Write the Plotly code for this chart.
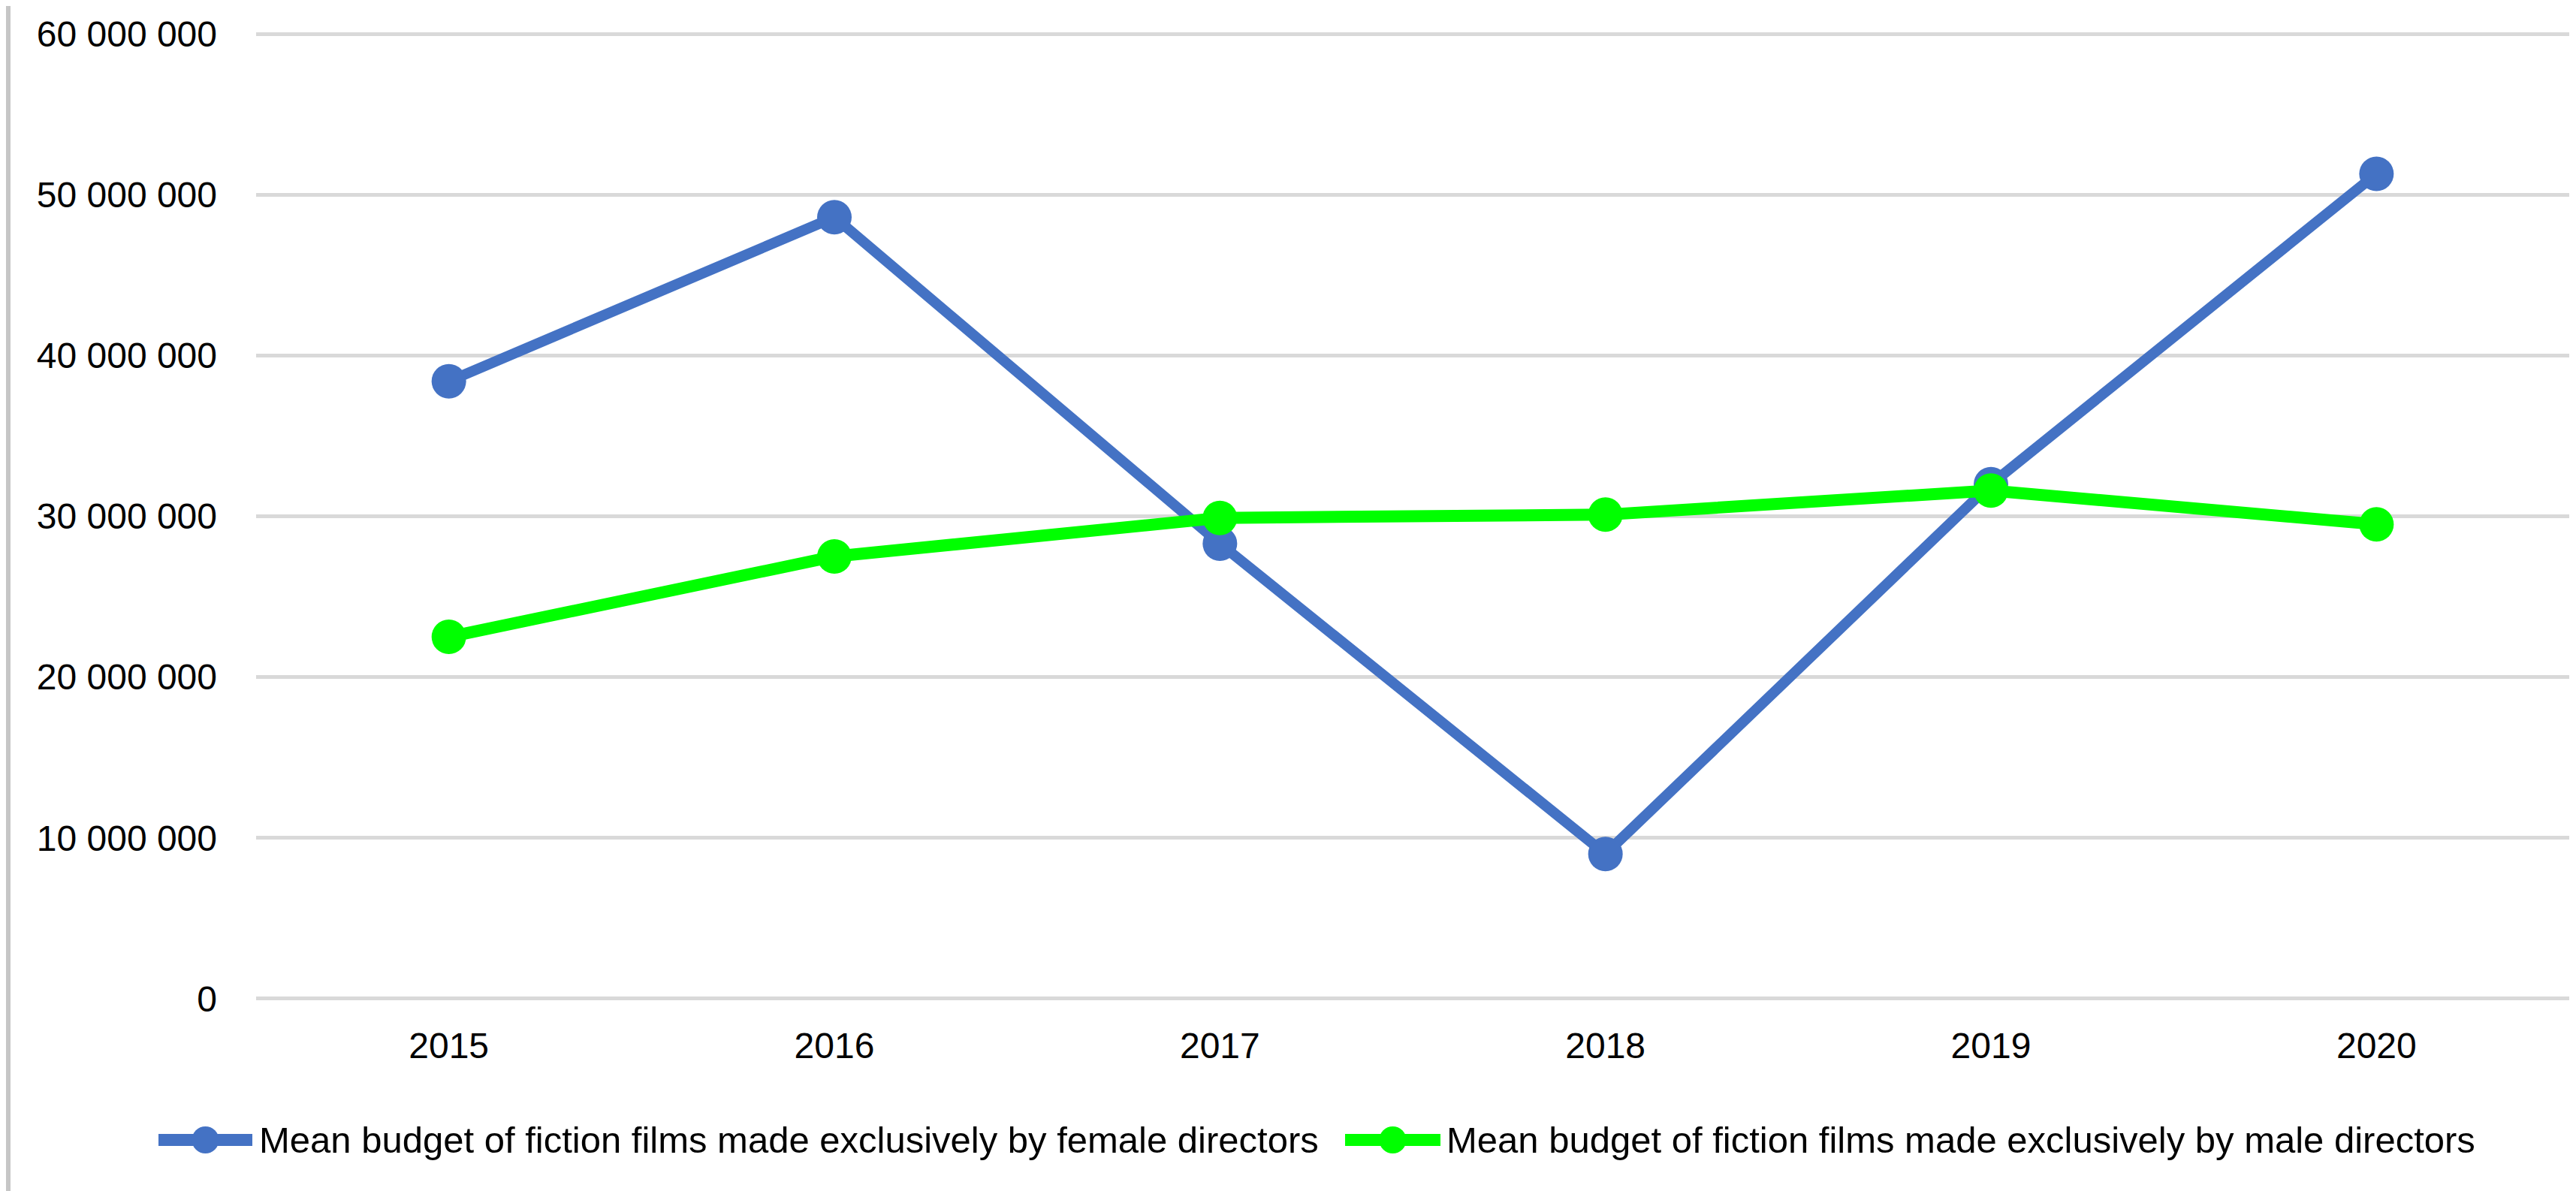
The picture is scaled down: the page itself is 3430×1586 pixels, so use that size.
import plotly.graph_objects as go

years = ["2015", "2016", "2017", "2018", "2019", "2020"]
female_budget = [38400000, 48600000, 28300000, 9000000, 32000000, 51300000]
male_budget = [22500000, 27500000, 29900000, 30100000, 31600000, 29500000]
y_ticks = [0, 10000000, 20000000, 30000000, 40000000, 50000000, 60000000]
series_names = [
    "Mean budget of fiction films made exclusively by female directors",
    "Mean budget of fiction films made exclusively by male directors",
]
BLUE = "#4472c4"
GREEN = "#00ff00"

W, H = 3430, 1586
L, R, T, B = 333, 17, 35, 262
PW, PH = W - L - R, H - T - B
FONT = "Liberation Sans, Arial, sans-serif"

fig = go.Figure()
fig.add_trace(go.Scatter(x=years, y=female_budget, mode="lines+markers", name=series_names[0],
                         line=dict(color=BLUE, width=14), marker=dict(color=BLUE, size=46),
                         showlegend=False))
fig.add_trace(go.Scatter(x=years, y=male_budget, mode="lines+markers", name=series_names[1],
                         line=dict(color=GREEN, width=16), marker=dict(color=GREEN, size=46),
                         showlegend=False))


def px_x(px):
    return (px - L) / PW


def px_y(py):
    return (H - B - py) / PH


shapes = []
annotations = []
legend_items = [(203, 328, 335, BLUE, series_names[0]), (1783, 1910, 1916, GREEN, series_names[1])]
ly = 1510
for x0, x1, tx, col, name in legend_items:
    shapes.append(dict(type="line", xref="paper", yref="paper", x0=px_x(x0), x1=px_x(x1),
                       y0=px_y(ly), y1=px_y(ly), line=dict(color=col, width=16)))
    shapes.append(dict(type="circle", xref="paper", yref="paper", xsizemode="pixel", ysizemode="pixel",
                       xanchor=px_x((x0 + x1) / 2), yanchor=px_y(ly), x0=-18, x1=18, y0=-18, y1=18,
                       fillcolor=col, line=dict(width=0)))
    annotations.append(dict(xref="paper", yref="paper", x=px_x(tx), y=px_y(ly), xanchor="left",
                            yanchor="middle", text=name, showarrow=False,
                            font=dict(family=FONT, size=49, color="#000000")))

# left border of the frame
shapes.append(dict(type="line", xref="paper", yref="paper", x0=px_x(3), x1=px_x(3),
                   y0=px_y(H), y1=px_y(0), line=dict(color="#c6c6c6", width=6)))

fig.update_layout(
    width=W, height=H,
    margin=dict(l=L, r=R, t=T, b=B, pad=0),
    paper_bgcolor="white", plot_bgcolor="white",
    separators=". ",
    font=dict(family=FONT, size=48, color="#000000"),
    xaxis=dict(type="category", range=[-0.5, 5.5], showgrid=False, showline=False, zeroline=False,
               ticks="", ticklabelstandoff=28, tickfont=dict(size=48)),
    yaxis=dict(range=[-100000, 60100000], tickvals=y_ticks, tickformat=",d", showgrid=True,
               gridcolor="#d9d9d9", gridwidth=5, zeroline=True, zerolinecolor="#d9d9d9",
               zerolinewidth=5, showline=False,
               ticks="", ticklabelstandoff=51, tickfont=dict(size=48)),
    shapes=shapes,
    annotations=annotations,
    showlegend=False,
)

fig.write_html("out.html")
